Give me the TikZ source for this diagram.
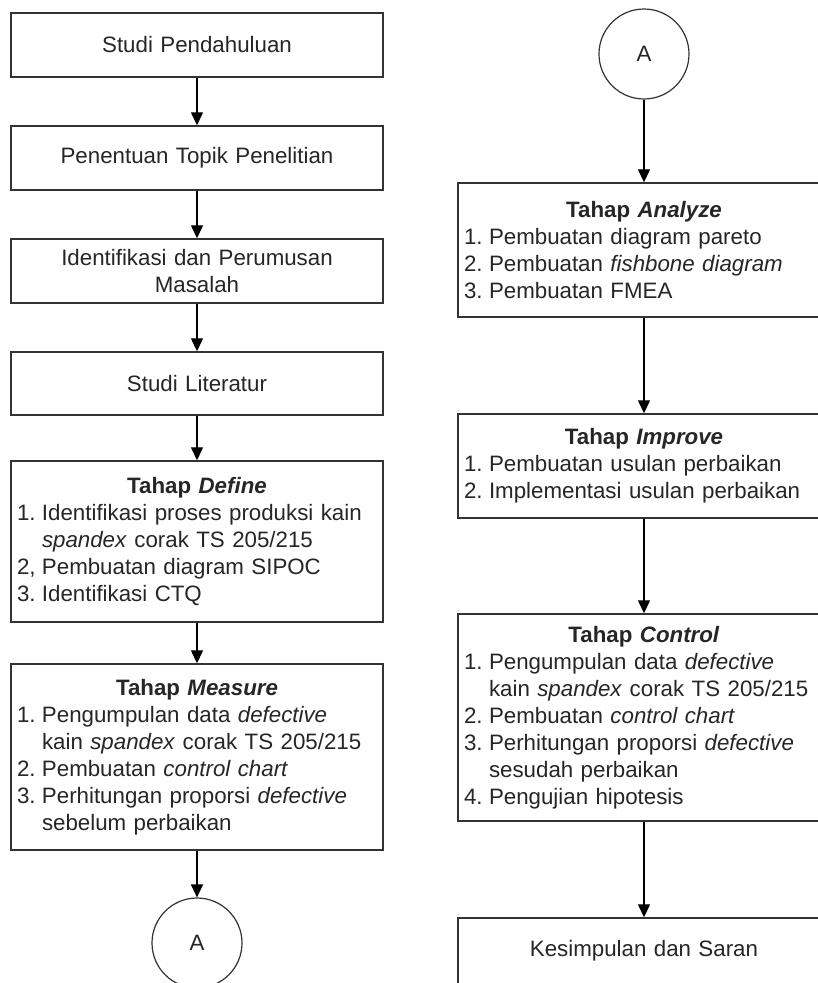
\documentclass[tikz,border=0pt]{standalone}
\usepackage{fontspec}
\setmainfont{Liberation Sans}
\usetikzlibrary{arrows.meta}
\begin{document}
\begin{tikzpicture}[x=1pt,y=-1pt,
  every node/.style={font=\fontsize{22.3}{27}\selectfont, text=black!85},
  plainbox/.style={draw=black!80, line width=1.4pt, minimum width=372pt, inner sep=0pt, align=center, text width=360pt},
  listbox/.style={draw=black!80, line width=1.4pt, minimum width=372pt, inner xsep=6pt, inner ysep=0pt, align=left, text width=360pt},
  conn/.style={circle, draw=black!80, line width=1.2pt, minimum size=90pt, inner sep=0pt},
  flow/.style={line width=1.3pt, -{Triangle[width=12pt,length=13pt]}}
]
\useasboundingbox (0,0) rectangle (818,983);
\clip (0,0) rectangle (818,983);
\fill[white] (0,0) rectangle (818,983);
\newcommand{\itm}[1]{\makebox[25pt][l]{#1}}
\newcommand{\ind}{\hspace*{25pt}}
% left column
\node[plainbox, minimum height=64pt] (b1) at (197,45) {Studi Pendahuluan};
\node[plainbox, minimum height=64pt] (b2) at (197,158) {Penentuan Topik Penelitian};
\node[plainbox, minimum height=64pt] (b3) at (197,271) {Identifikasi dan Perumusan\\Masalah};
\node[plainbox, minimum height=63pt] (b4) at (197,383.5) {Studi Literatur};
\node[listbox, minimum height=161pt] (b5) at (197,541.5) {\makebox[360pt]{\textbf{Tahap \textit{Define}}}\\
\itm{1.}Identifikasi proses produksi kain\\
\ind\textit{spandex} corak TS 205/215\\
\itm{2,}Pembuatan diagram SIPOC\\
\itm{3.}Identifikasi CTQ};
\node[listbox, minimum height=186pt] (b6) at (197,757) {\makebox[360pt]{\textbf{Tahap \textit{Measure}}}\\
\itm{1.}Pengumpulan data \textit{defective}\\
\ind kain \textit{spandex} corak TS 205/215\\
\itm{2.}Pembuatan \textit{control chart}\\
\itm{3.}Perhitungan proporsi \textit{defective}\\
\ind sebelum perbaikan};
\node[conn] (a1) at (197,943) {A};
% right column
\node[conn] (a2) at (644,54) {A};
\node[listbox, minimum height=134pt] (c1) at (644,250) {\makebox[360pt]{\textbf{Tahap \textit{Analyze}}}\\
\itm{1.}Pembuatan diagram pareto\\
\itm{2.}Pembuatan \textit{fishbone diagram}\\
\itm{3.}Pembuatan FMEA};
\node[listbox, minimum height=104pt] (c2) at (644,466) {\makebox[360pt]{\textbf{Tahap \textit{Improve}}}\\
\itm{1.}Pembuatan usulan perbaikan\\
\itm{2.}Implementasi usulan perbaikan};
\node[listbox, minimum height=207pt] (c3) at (644,717.5) {\makebox[360pt]{\textbf{Tahap \textit{Control}}}\\
\itm{1.}Pengumpulan data \textit{defective}\\
\ind kain \textit{spandex} corak TS 205/215\\
\itm{2.}Pembuatan \textit{control chart}\\
\itm{3.}Perhitungan proporsi \textit{defective}\\
\ind sesudah perbaikan\\
\itm{4.}Pengujian hipotesis};
\node[plainbox, minimum height=66pt] (c4) at (644,951) {Kesimpulan dan Saran};
% connectors
\draw[flow] (b1) -- (b2);
\draw[flow] (b2) -- (b3);
\draw[flow] (b3) -- (b4);
\draw[flow] (b4) -- (b5);
\draw[flow] (b5) -- (b6);
\draw[flow] (b6) -- (a1);
\draw[flow] (a2) -- (c1);
\draw[flow] (c1) -- (c2);
\draw[flow] (c2) -- (c3);
\draw[flow] (c3) -- (c4);
\end{tikzpicture}
\end{document}
